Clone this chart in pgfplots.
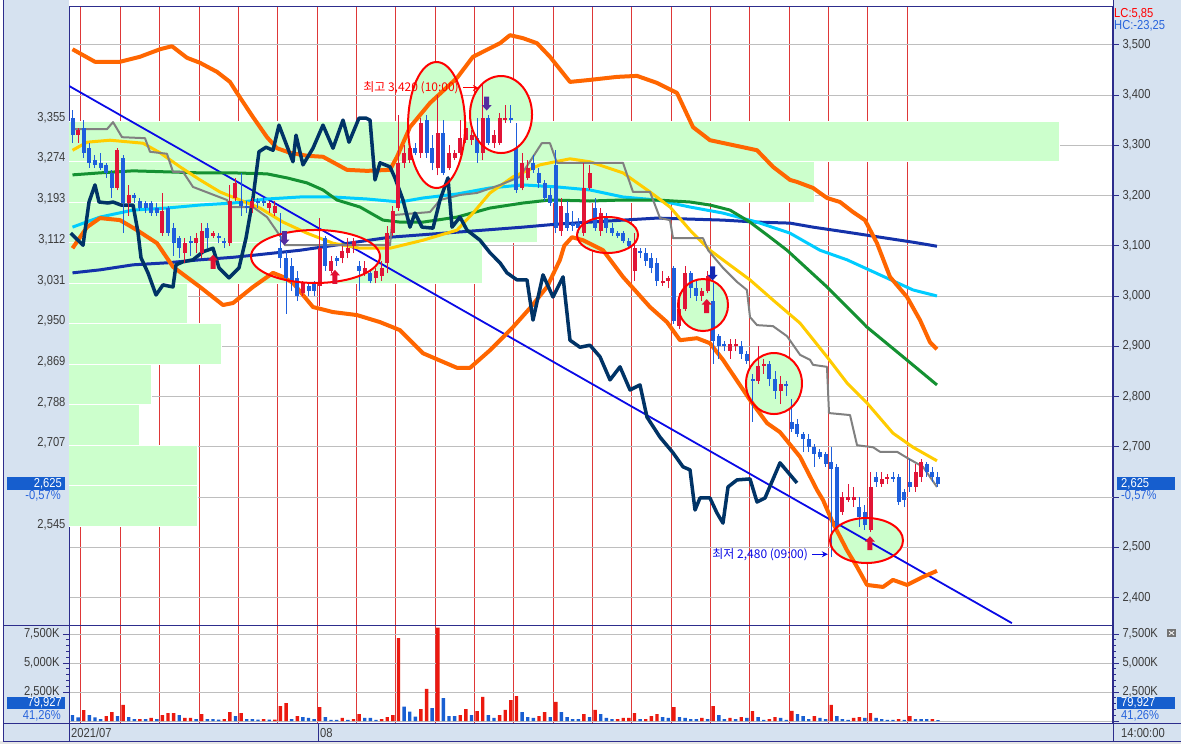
\documentclass[border=0pt]{standalone}
\usepackage{fontspec}
\setmainfont{Liberation Sans}[FakeStretch=0.86]
\newfontfamily\krfont{Noto Sans CJK KR}
\usepackage{pgfplots}
\usepackage{pgfplotstable}
\pgfplotsset{compat=1.18}
\usetikzlibrary{arrows.meta}

\definecolor{panel}{RGB}{214,226,240}
\definecolor{navy}{RGB}{45,45,140}
\definecolor{pgreen}{RGB}{204,255,204}
\definecolor{redgrid}{RGB}{222,55,55}
\definecolor{gridgray}{RGB}{190,190,190}
\definecolor{bborange}{RGB}{255,102,0}
\definecolor{mgray}{RGB}{128,128,128}
\definecolor{myellow}{RGB}{255,204,0}
\definecolor{mgreen}{RGB}{20,145,50}
\definecolor{mcyan}{RGB}{0,204,255}
\definecolor{mdblue}{RGB}{20,50,170}
\definecolor{osc}{RGB}{0,51,102}
\definecolor{tline}{RGB}{10,10,230}
\definecolor{cred}{RGB}{225,20,55}
\definecolor{cblue}{RGB}{30,95,220}
\definecolor{vred}{RGB}{235,25,15}
\definecolor{vblue}{RGB}{25,95,210}
\definecolor{lblbox}{RGB}{22,94,206}
\definecolor{lbltext}{RGB}{40,100,220}
\definecolor{tickgray}{RGB}{60,60,60}
\definecolor{purp}{RGB}{85,45,160}
\definecolor{sigred}{RGB}{225,15,50}
\definecolor{sigblue}{RGB}{20,40,180}

\newcommand\tks{\fontsize{13}{15}\selectfont}

\pgfdeclareplotmark{uparr}{%
 \pgfpathmoveto{\pgfqpoint{0pt}{7pt}}%
 \pgfpathlineto{\pgfqpoint{5pt}{1.5pt}}%
 \pgfpathlineto{\pgfqpoint{2.5pt}{1.5pt}}%
 \pgfpathlineto{\pgfqpoint{2.5pt}{-7pt}}%
 \pgfpathlineto{\pgfqpoint{-2.5pt}{-7pt}}%
 \pgfpathlineto{\pgfqpoint{-2.5pt}{1.5pt}}%
 \pgfpathlineto{\pgfqpoint{-5pt}{1.5pt}}%
 \pgfpathclose\pgfusepathqfill}
\pgfdeclareplotmark{dnarr}{%
 \pgfpathmoveto{\pgfqpoint{0pt}{-7pt}}%
 \pgfpathlineto{\pgfqpoint{5pt}{-1.5pt}}%
 \pgfpathlineto{\pgfqpoint{2.5pt}{-1.5pt}}%
 \pgfpathlineto{\pgfqpoint{2.5pt}{7pt}}%
 \pgfpathlineto{\pgfqpoint{-2.5pt}{7pt}}%
 \pgfpathlineto{\pgfqpoint{-2.5pt}{-1.5pt}}%
 \pgfpathlineto{\pgfqpoint{-5pt}{-1.5pt}}%
 \pgfpathclose\pgfusepathqfill}

\pgfplotstableread{
x o h l c
0 3355 3370 3305 3320
1 3320 3335 3305 3330
2 3335 3350 3275 3285
3 3295 3305 3255 3265
4 3270 3280 3255 3260
5 3265 3285 3250 3255
6 3260 3265 3235 3245
7 3245 3250 3195 3215
8 3215 3295 3210 3290
9 3275 3280 3125 3185
10 3185 3220 3160 3200
11 3200 3205 3185 3195
12 3190 3195 3170 3175
13 3185 3190 3165 3175
14 3185 3190 3160 3165
15 3175 3185 3160 3165
16 3125 3205 3120 3170
17 3175 3180 3120 3125
18 3135 3145 3080 3105
19 3115 3120 3075 3095
20 3085 3115 3065 3105
21 3110 3120 3080 3105
22 3105 3125 3085 3115
23 3085 3145 3075 3130
24 3135 3145 3095 3115
25 3120 3130 3115 3125
26 3120 3125 3105 3115
27 3110 3115 3095 3105
28 3105 3220 3100 3190
29 3195 3235 3190 3225
30 3190 3245 3160 3180
31 3180 3190 3165 3175
32 3175 3195 3165 3190
33 3190 3195 3175 3185
34 3190 3195 3180 3185
35 3175 3190 3165 3185
36 3165 3190 3160 3180
37 3095 3165 3055 3075
38 3075 3090 2965 3035
39 3060 3075 3010 3030
40 3035 3050 2990 3000
41 3005 3030 3000 3025
42 3020 3025 3000 3010
43 3025 3030 3000 3010
44 3020 3155 2980 3095
45 3115 3120 3050 3060
46 3050 3080 3045 3070
47 3075 3080 3060 3070
48 3075 3100 3065 3090
49 3085 3115 3075 3095
50 3100 3115 3085 3110
51 3060 3070 3010 3050
52 3045 3070 3040 3055
53 3045 3050 3025 3030
54 3035 3055 3025 3050
55 3040 3070 3030 3055
56 3065 3140 3045 3125
57 3125 3180 3120 3170
58 3175 3360 3170 3265
59 3265 3300 3255 3285
60 3270 3310 3265 3295
61 3295 3305 3280 3285
62 3285 3355 3275 3345
63 3350 3360 3275 3285
64 3295 3320 3250 3265
65 3255 3400 3240 3325
66 3325 3350 3240 3245
67 3255 3300 3250 3285
68 3275 3290 3270 3285
69 3285 3350 3280 3315
70 3310 3360 3305 3335
71 3310 3330 3300 3320
72 3315 3355 3265 3285
73 3285 3420 3270 3355
74 3355 3360 3300 3305
75 3305 3330 3295 3320
76 3305 3365 3300 3355
77 3350 3380 3345 3355
78 3355 3380 3345 3350
79 3295 3345 3205 3210
80 3215 3285 3210 3265
81 3235 3270 3230 3255
82 3265 3280 3245 3250
83 3245 3255 3215 3225
84 3225 3230 3190 3195
85 3200 3215 3180 3185
86 3260 3290 3125 3135
87 3130 3195 3120 3180
88 3165 3190 3130 3135
89 3145 3170 3130 3140
90 3145 3155 3125 3135
91 3125 3265 3120 3215
92 3215 3260 3210 3245
93 3175 3195 3130 3135
94 3130 3175 3120 3165
95 3155 3165 3125 3135
96 3135 3145 3120 3125
97 3125 3130 3115 3120
98 3125 3130 3105 3110
99 3110 3115 3095 3100
100 3050 3125 3030 3095
101 3090 3095 3075 3085
102 3085 3095 3060 3070
103 3075 3085 3045 3055
104 3065 3075 3020 3030
105 3025 3050 3020 3030
106 3030 3040 3015 3035
107 3055 3060 2945 2950
108 2940 3005 2935 2975
109 2975 3060 2970 3045
110 3045 3050 2995 3015
111 3015 3030 2990 3000
112 3000 3015 2990 3010
113 3010 3050 3005 3040
114 2990 3025 2865 2910
115 2920 2925 2875 2900
116 2905 2910 2890 2900
117 2890 2915 2875 2905
118 2900 2915 2890 2905
119 2900 2910 2875 2885
120 2885 2890 2865 2870
121 2835 2845 2750 2830
122 2830 2900 2825 2860
123 2860 2875 2845 2865
124 2865 2870 2820 2835
125 2835 2850 2795 2810
126 2810 2840 2785 2825
127 2825 2830 2800 2820
128 2750 2795 2730 2735
129 2745 2755 2720 2725
130 2725 2730 2690 2715
131 2715 2725 2690 2700
132 2700 2705 2660 2685
133 2690 2695 2675 2680
134 2685 2690 2660 2665
135 2670 2700 2480 2655
136 2660 2665 2535 2540
137 2570 2610 2565 2600
138 2595 2625 2590 2600
139 2595 2620 2580 2600
140 2580 2600 2540 2560
141 2570 2585 2535 2545
142 2535 2650 2530 2620
143 2640 2650 2620 2630
144 2625 2650 2620 2635
145 2635 2645 2625 2640
146 2640 2650 2630 2635
147 2640 2645 2585 2590
148 2610 2615 2580 2595
149 2630 2675 2610 2620
150 2620 2665 2610 2650
151 2640 2675 2630 2670
152 2665 2670 2640 2650
153 2650 2660 2630 2640
154 2640 2650 2620 2625
}\candles

\pgfplotstableread{
x v u
0 517 0
1 320 0
2 948 1
3 517 0
4 320 0
5 170 0
6 430 1
7 776 1
8 430 0
9 1380 1
10 345 0
11 170 0
12 170 1
13 170 0
14 260 1
15 170 0
16 517 1
17 690 1
18 690 1
19 517 0
20 260 1
21 260 1
22 170 0
23 600 1
24 170 0
25 170 0
26 110 0
27 170 1
28 776 1
29 430 0
30 690 1
31 170 0
32 170 0
33 110 0
34 170 1
35 110 0
36 110 1
37 1290 1
38 1550 1
39 170 0
40 430 1
41 345 0
42 260 0
43 170 0
44 1200 1
45 345 0
46 90 0
47 90 0
48 260 1
49 90 0
50 170 1
51 600 1
52 260 0
53 260 0
54 90 0
55 170 1
56 345 1
57 517 1
58 7150 1
59 1230 0
60 800 0
61 370 0
62 1030 1
63 2760 1
64 1120 0
65 8040 1
66 1980 0
67 430 0
68 430 0
69 517 1
70 1030 1
71 517 0
72 860 1
73 2070 1
74 517 0
75 260 0
76 517 1
77 950 1
78 1810 1
79 2150 1
80 776 0
81 345 0
82 260 0
83 430 1
84 776 1
85 345 0
86 1640 1
87 776 0
88 345 0
89 170 0
90 170 0
91 600 1
92 345 0
93 950 1
94 600 0
95 260 0
96 170 0
97 170 1
98 260 1
99 260 1
100 690 1
101 170 0
102 170 1
103 430 1
104 600 1
105 345 0
106 260 0
107 1200 1
108 345 0
109 260 0
110 170 0
111 170 0
112 260 1
113 170 0
114 1290 1
115 517 0
116 170 0
117 260 1
118 170 0
119 345 1
120 260 0
121 860 1
122 345 0
123 90 0
124 170 1
125 345 1
126 260 0
127 90 0
128 870 1
129 600 0
130 430 0
131 170 0
132 430 1
133 260 0
134 170 0
135 1380 1
136 430 0
137 170 0
138 90 0
139 260 1
140 345 1
141 260 0
142 690 1
143 260 0
144 170 0
145 90 0
146 90 0
147 170 1
148 90 0
149 430 1
150 170 0
151 170 0
152 170 0
153 170 1
154 80 0
}\volumes

\pgfplotsset{
 chartbase/.style={
   scale only axis, width=1044pt,
   xmin=-0.623, xmax=185.14,
   xtick={1.5,8.5,...,148.5}, xticklabels={},
   x tick label style={text opacity=0, opacity=0},
   xmajorgrids, major x grid style={redgrid, line width=0.9pt},
   x tick style={draw=none},
   axis line style={navy, line width=1pt},
   tick align=outside, major tick length=6pt, minor tick length=3pt,
   y tick style={navy, line width=0.8pt},
   ymajorgrids, major y grid style={gridgray, line width=0.9pt},
   scaled y ticks=false,
   y tick label style={font=\tks, text=tickgray},
   /pgf/number format/assume math mode=true,
   /pgf/number format/1000 sep={,},
 },
 overlay/.style={
   scale only axis, width=1044pt,
   xmin=0, xmax=1, hide x axis,
   axis line style={draw=none},
   scaled y ticks=false,
   y tick label style={font=\tks, text=tickgray},
   /pgf/number format/assume math mode=true,
   /pgf/number format/1000 sep={,},
 },
 upc/.style={x filter/.expression={\thisrow{c}>=\thisrow{o} ? x : nan}},
 dnc/.style={x filter/.expression={\thisrow{c}<\thisrow{o} ? x : nan}},
}

\begin{document}
\begin{tikzpicture}
\useasboundingbox (0pt,0pt) rectangle (1181pt,-744pt);
\fill[white] (0pt,0pt) rectangle (1181pt,-744pt);
\fill[panel] (3pt,0pt) rectangle (69pt,-741pt);
\fill[panel] (1113pt,0pt) rectangle (1181pt,-741pt);
\fill[panel] (69pt,-723pt) rectangle (1113pt,-741pt);
\fill[black!10] (0pt,-741pt) rectangle (1181pt,-744pt);

% ---------------- main price panel ----------------
\begin{axis}[chartbase, at={(69pt,-6pt)}, anchor=north west, height=619pt,
  ymin=2345.25, ymax=3577.06,
  ytick={2400,2500,2700,2800,2900,3000,3100,3200,3300,3400,3500},
  extra y ticks={2600}, extra y tick labels={},
  ytick pos=right, yticklabel pos=right, minor y tick num=4]

% volume-by-price profile
\addplot[fill=pgreen, draw=white, line width=1pt] coordinates {(-1,3348) (175.7,3348) (175.7,3267.4) (-1,3267.4) (-1,3348)};
\addplot[fill=pgreen, draw=white, line width=1pt] coordinates {(-1,3267.4) (132.1,3267.4) (132.1,3186.8) (-1,3186.8) (-1,3267.4)};
\addplot[fill=pgreen, draw=white, line width=1pt] coordinates {(-1,3186.8) (82.7,3186.8) (82.7,3106.2) (-1,3106.2) (-1,3186.8)};
\addplot[fill=pgreen, draw=white, line width=1pt] coordinates {(-1,3106.2) (72.9,3106.2) (72.9,3025.6) (-1,3025.6) (-1,3106.2)};
\addplot[fill=pgreen, draw=white, line width=1pt] coordinates {(-1,3025.6) (20.5,3025.6) (20.5,2945.0) (-1,2945.0) (-1,3025.6)};
\addplot[fill=pgreen, draw=white, line width=1pt] coordinates {(-1,2945.0) (26.6,2945.0) (26.6,2864.4) (-1,2864.4) (-1,2945.0)};
\addplot[fill=pgreen, draw=white, line width=1pt] coordinates {(-1,2864.4) (14.0,2864.4) (14.0,2783.8) (-1,2783.8) (-1,2864.4)};
\addplot[fill=pgreen, draw=white, line width=1pt] coordinates {(-1,2783.8) (12.0,2783.8) (12.0,2703.2) (-1,2703.2) (-1,2783.8)};
\addplot[fill=pgreen, draw=white, line width=1pt] coordinates {(-1,2703.2) (22.2,2703.2) (22.2,2622.6) (-1,2622.6) (-1,2703.2)};
\addplot[fill=pgreen, draw=white, line width=1pt] coordinates {(-1,2622.6) (22.3,2622.6) (22.3,2542.0) (-1,2542.0) (-1,2622.6)};

% ellipse fills (XOR-like against the profile)
\fill[pgreen] (axis cs:64.78,3340.25) ellipse [x radius=28.5pt, y radius=63pt];
\begin{scope}
 \clip (axis cs:64.78,3340.25) ellipse [x radius=28.5pt, y radius=63pt];
 \fill[white] (axis cs:55,3186.8) rectangle (axis cs:75,3348);
\end{scope}
\fill[pgreen] (axis cs:76.25,3361.1) ellipse [x radius=31pt, y radius=38.5pt];
\begin{scope}
 \clip (axis cs:76.25,3361.1) ellipse [x radius=31pt, y radius=38.5pt];
 \fill[white] (axis cs:65,3267.4) rectangle (axis cs:88,3348);
\end{scope}
\fill[white] (axis cs:43.24,3078.6) ellipse [x radius=64.5pt, y radius=26.5pt];
\fill[pgreen] (axis cs:95.2,3121.35) ellipse [x radius=30.5pt, y radius=18pt];
\fill[pgreen] (axis cs:112.19,2982) ellipse [x radius=25pt, y radius=26pt];
\fill[pgreen] (axis cs:124.82,2825.8) ellipse [x radius=28pt, y radius=30.5pt];
\fill[pgreen] (axis cs:141.28,2513.4) ellipse [x radius=36.5pt, y radius=22.5pt];

% trend line
\addplot[tline, line width=1.8pt] coordinates {(-0.62,3418) (167.15,2349)};

% moving averages
\addplot[mdblue, line width=3pt, line join=round] coordinates {(0,3046) (4.89,3052) (10.77,3062) (16.81,3066) (22.69,3072) (28.56,3077) (32.12,3081) (40.48,3091) (56.49,3117) (68.42,3127) (80.16,3137) (86.21,3143) (92.08,3147) (97.95,3151) (104,3155) (109.88,3153) (115.74,3151) (121.8,3147) (127.67,3145) (131.76,3137) (137.81,3127) (143.68,3117) (149.56,3107) (153.82,3099)};
\addplot[mcyan, line width=3pt, line join=round] coordinates {(0,3137) (4.89,3157) (10.77,3171) (16.81,3175) (22.69,3181) (28.56,3185) (34.61,3193) (40.48,3197) (46.35,3197) (52.4,3193) (58.27,3187) (62.37,3195) (68.42,3203) (74.29,3215) (80.16,3221) (86.21,3217) (92.08,3211) (97.95,3197) (104,3191) (109.88,3177) (115.74,3165) (121.8,3147) (127.67,3125) (133.01,3091) (137.81,3072) (143.68,3042) (149.56,3012) (153.82,3000)};
\addplot[mgreen, line width=3pt, line join=round] coordinates {(0,3241) (4.89,3245) (10.77,3249) (16.81,3247) (22.69,3245) (28.56,3245) (34.61,3243) (38.17,3235) (41.73,3225) (44.57,3211) (47.06,3191) (51.16,3177) (55.25,3151) (58.27,3147) (62.37,3147) (68.42,3157) (74.29,3175) (80.16,3185) (84.96,3191) (92.08,3189) (97.95,3191) (104,3191) (109.88,3187) (113.43,3181) (116.99,3171) (120.55,3147) (124.11,3117) (127.14,3091) (134.25,3018) (141.37,2938) (147.78,2879) (153.82,2823)};
\addplot[myellow, line width=3pt, line join=round] coordinates {(0,3290) (2.58,3306) (6.67,3310) (12.54,3304) (15.57,3285) (19.13,3257) (22.69,3231) (26.25,3207) (29.8,3191) (33.36,3175) (37.46,3147) (41.73,3125) (46.35,3105) (51.16,3095) (56.49,3095) (62.37,3111) (68.42,3131) (71.26,3165) (74.29,3205) (78.38,3237) (83.19,3261) (88.52,3273) (92.08,3267) (97.95,3245) (102.76,3207) (106.32,3177) (109.88,3131) (113.43,3091) (120.55,3032) (124.64,2992) (129.45,2946) (134.25,2879) (137.81,2827) (141.37,2787) (145.99,2727) (149.56,2699) (153.82,2672)};
\addplot[mgray, line width=2pt, line join=round] coordinates {(0,3332) (6.14,3332) (7.21,3346) (8.81,3316) (12.9,3314) (13.79,3287) (16.81,3283) (17.88,3247) (19.66,3247) (21.44,3217) (27.49,3191) (28.02,3177) (32.12,3177) (34.61,3157) (37.46,3111) (37.81,3101) (56.49,3101) (57.0,3161) (63.61,3167) (65.39,3191) (68.95,3201) (71.97,3205) (76.07,3221) (79.6,3237) (81.94,3277) (83.5,3304) (84.96,3304) (86.2,3265) (97.95,3265) (99.73,3207) (102.76,3207) (104.54,3155) (106.32,3151) (106.85,3115) (112.19,3115) (113.1,3091) (115.74,3056) (118.24,3028) (120,3012) (120.55,2958) (121.8,2942) (124.64,2940) (127.14,2920) (129.45,2883) (131.23,2873) (131.76,2863) (134.25,2859) (134.61,2767) (138.35,2763) (139.6,2703) (142.44,2699) (143.68,2690) (146.71,2690) (148.49,2678) (151.33,2660) (153.82,2620)};

% Bollinger bands
\addplot[bborange, line width=4pt, line join=round] coordinates {(0,3491) (4,3466) (8.45,3466) (12,3476) (15.57,3491) (17.7,3497) (20.37,3474) (22.69,3464) (25.71,3446) (28.02,3426) (29.27,3404) (32.12,3356) (34.61,3316) (36.39,3294) (38.7,3285) (41.73,3279) (44.57,3277) (48.84,3251) (52.4,3249) (56.49,3251) (57.74,3277) (60.05,3336) (63.61,3384) (68.42,3434) (71.26,3476) (74.29,3493) (76.07,3503) (77.85,3519) (80.16,3513) (82.65,3503) (84.96,3476) (88.52,3426) (92.08,3430) (96.89,3436) (100.44,3438) (104,3424) (107.56,3404) (110.41,3336) (113.43,3310) (119.31,3296) (121.8,3290) (124.64,3257) (127.67,3231) (128.91,3227) (131.76,3215) (134.25,3195) (136.57,3187) (138.88,3167) (141.01,3151) (143.15,3105) (145.46,3038) (148.49,2998) (150.8,2952) (152.58,2908) (153.82,2894)};
\addplot[bborange, line width=4pt, line join=round] coordinates {(0,3095) (2.58,3137) (4.89,3155) (8.45,3151) (11.48,3131) (15.04,3105) (17.88,3058) (22.69,3018) (26.78,2982) (28.56,2986) (32.12,3018) (35.68,3046) (37.46,3038) (39.23,3026) (42.79,2978) (46.35,2968) (50.62,2962) (54.72,2948) (58.27,2932) (62.37,2886) (68.42,2857) (70.73,2857) (74.29,2892) (78.38,2938) (81.41,2976) (84.43,3018) (86.74,3072) (87.5,3100) (88.88,3117) (90.84,3111) (94.4,3091) (97.95,3038) (102.76,2978) (105.78,2948) (108.1,2912) (111.12,2916) (113.43,2906) (115.74,2873) (120.55,2793) (123.58,2747) (125.89,2729) (129.45,2680) (132.47,2614) (133.54,2594) (135.32,2548) (137.81,2494) (139.59,2461) (141.37,2425) (144.22,2421) (145.99,2435) (148.49,2425) (151.33,2441) (153.82,2453)};

% oscillator overlay
\addplot[osc, line width=3.5pt, line join=round] coordinates {(-0.3,3125) (1.87,3101) (2.94,3187) (4.0,3221) (4.72,3187) (6.32,3185) (7.21,3187) (8.63,3181) (10.77,3181) (11.65,3127) (12.19,3076) (13.43,3046) (14.86,3002) (16.1,3022) (17.88,3018) (18.42,3062) (19.66,3068) (21.44,3072) (23.22,3088) (25.0,3095) (26.07,3056) (27.85,3036) (29.63,3056) (30.87,3115) (32.12,3195) (33.18,3287) (34.43,3296) (35.68,3290) (36.74,3340) (39.23,3267) (39.77,3320) (41.01,3261) (42.79,3294) (44.57,3340) (46.35,3294) (48.13,3350) (49.2,3306) (50.98,3354) (52.22,3354) (52.94,3350) (53.83,3231) (54.72,3265) (56.49,3257) (57.38,3235) (58.81,3191) (60.05,3137) (60.94,3165) (62.19,3137) (64.15,3135) (65.39,3191) (66.81,3235) (67.53,3137) (68.95,3157) (70.2,3131) (72.51,3111) (74.29,3086) (76.07,3066) (77.31,3046) (79.09,3032) (80.87,3032) (81.94,2952) (83.72,3042) (85.5,2998) (87.28,3038) (88.52,2912) (90.3,2898) (92.08,2902) (93.86,2879) (95.64,2833) (97.42,2859) (99.2,2813) (100.98,2823) (102.22,2759) (104.54,2719) (106.85,2688) (108.63,2660) (109.88,2654) (110.77,2574) (111.65,2598) (113.43,2598) (114.68,2568) (115.74,2548) (116.64,2620) (118.24,2634) (120.55,2636) (121.8,2590) (123.22,2598) (125.89,2668) (128.91,2628)};

% candles: wicks
\addplot[upc, draw=none, mark=none, error bars/.cd, y dir=plus, y explicit, error mark=none,
  error bar style={draw=cred, line width=1pt}]
  table[x=x, y=l, y error plus expr={\thisrow{h}-\thisrow{l}}] {\candles};
\addplot[dnc, draw=none, mark=none, error bars/.cd, y dir=plus, y explicit, error mark=none,
  error bar style={draw=cblue, line width=1pt}]
  table[x=x, y=l, y error plus expr={\thisrow{h}-\thisrow{l}}] {\candles};
% candles: bodies
\addplot[upc, draw=none, mark=none, error bars/.cd, y dir=both, y explicit, error mark=none,
  error bar style={draw=cred, line width=4pt}]
  table[x=x, y expr={(\thisrow{o}+\thisrow{c})/2}, y error expr={abs(\thisrow{c}-\thisrow{o})/2}] {\candles};
\addplot[dnc, draw=none, mark=none, error bars/.cd, y dir=both, y explicit, error mark=none,
  error bar style={draw=cblue, line width=4pt}]
  table[x=x, y expr={(\thisrow{o}+\thisrow{c})/2}, y error expr={abs(\thisrow{c}-\thisrow{o})/2}] {\candles};

% signal markers
\addplot[only marks, mark=dnarr, purp] coordinates {(37.7,3115) (73.7,3383)};
\addplot[only marks, mark=uparr, sigred] coordinates {(25,3068) (46.7,3038) (112.85,2980) (141.9,2508)};
\addplot[only marks, mark=dnarr, sigblue] coordinates {(113.9,3045)};

% ellipse outlines
\draw[red, line width=2pt] (axis cs:64.78,3340.25) ellipse [x radius=28.5pt, y radius=63pt];
\draw[red, line width=2pt] (axis cs:76.25,3361.1) ellipse [x radius=31pt, y radius=38.5pt];
\draw[red, line width=2pt] (axis cs:43.24,3078.6) ellipse [x radius=64.5pt, y radius=26.5pt];
\draw[red, line width=2pt] (axis cs:95.2,3121.35) ellipse [x radius=30.5pt, y radius=18pt];
\draw[red, line width=2pt] (axis cs:112.19,2982) ellipse [x radius=25pt, y radius=26pt];
\draw[red, line width=2pt] (axis cs:124.82,2825.8) ellipse [x radius=28pt, y radius=30.5pt];
\draw[red, line width=2pt] (axis cs:141.28,2513.4) ellipse [x radius=36.5pt, y radius=22.5pt];

% high / low annotations
\node[anchor=east, text=red, font=\krfont\fontsize{12}{14}\selectfont, inner sep=0pt] at (axis cs:68.77,3414) {최고 3,420 (10:00)};
\draw[red, line width=1pt, -{Stealth[length=6pt,width=6pt]}] (axis cs:69.5,3414) -- (axis cs:72.3,3414);
\node[anchor=east, text=tline, font=\krfont\fontsize{12}{14}\selectfont, inner sep=0pt] at (axis cs:130.9,2486) {최저 2,480 (09:00)};
\draw[tline, line width=1pt, -{Stealth[length=6pt,width=6pt]}] (axis cs:131.6,2486) -- (axis cs:134.4,2486);
\end{axis}

% left price labels
\begin{axis}[overlay, at={(69pt,-6pt)}, anchor=north west, height=619pt,
  ymin=2345.25, ymax=3577.06,
  ytick={2545,2707,2788,2869,2950,3031,3112,3193,3274,3355},
  ytick pos=left, yticklabel pos=left, y tick style={draw=none}, major tick length=0pt]
\addplot[draw=none] coordinates {(0.5,3000)};
\end{axis}

% ---------------- volume panel ----------------
\begin{axis}[chartbase, at={(69pt,-625pt)}, anchor=north west, height=98pt,
  ymin=-172, ymax=8276,
  ytick={0,2500,5000,7500}, yticklabels={{},{2,500K},{5,000K},{7,500K}},
  ytick pos=right, yticklabel pos=right, minor y tick num=4]
\addplot[ybar, bar width=3.4pt, bar shift=0pt, fill=vred, draw=none,
  x filter/.expression={\thisrow{u}>0 ? x : nan}]
  table[x=x, y=v] {\volumes};
\addplot[ybar, bar width=3.4pt, bar shift=0pt, fill=vblue, draw=none,
  x filter/.expression={\thisrow{u}>0 ? nan : x}]
  table[x=x, y=v] {\volumes};
\end{axis}

\begin{axis}[overlay, at={(69pt,-625pt)}, anchor=north west, height=98pt,
  ymin=-172, ymax=8276,
  ytick={2500,5000,7500}, yticklabels={{2,500K},{5,000K},{7,500K}},
  ytick pos=left, yticklabel pos=left, tick align=outside, major tick length=6pt, minor tick length=3pt,
  minor y tick num=4, y tick style={navy, line width=0.8pt}]
\addplot[draw=none] coordinates {(0.5,1000)};
\end{axis}

% ---------------- frame lines and side labels ----------------
\draw[navy, line width=1pt] (3pt,0pt) -- (3pt,-741pt);
\draw[navy, line width=1pt] (3pt,-741pt) -- (1181pt,-741pt);
\draw[navy, line width=1pt] (3pt,-625pt) -- (69pt,-625pt);
\draw[navy, line width=1pt] (3pt,-723pt) -- (1181pt,-723pt);
\draw[navy, line width=1pt] (1113pt,0pt) -- (1113pt,-741pt);
\draw[navy, line width=1pt] (69pt,-723pt) -- (69pt,-741pt);
\draw[navy, line width=1pt] (318pt,-723pt) -- (318pt,-741pt);

\node[anchor=west, text=red, font=\tks, inner sep=0pt] at (1114pt,-14pt) {LC:5,85};
\node[anchor=west, text=lbltext, font=\tks, inner sep=0pt] at (1114pt,-26pt) {HC:-23,25};

\fill[lblbox] (1117pt,-477pt) rectangle (1175pt,-490pt);
\node[anchor=west, text=white, font=\tks, inner sep=0pt] at (1121pt,-483.5pt) {2,625};
\node[anchor=west, text=lbltext, font=\tks, inner sep=0pt] at (1121pt,-496pt) {-0,57\%};
\fill[lblbox] (7pt,-477pt) rectangle (65pt,-490pt);
\node[anchor=east, text=white, font=\tks, inner sep=0pt] at (62pt,-483.5pt) {2,625};
\node[anchor=east, text=lbltext, font=\tks, inner sep=0pt] at (61pt,-496pt) {-0,57\%};

\fill[lblbox] (1117pt,-697pt) rectangle (1175pt,-709pt);
\node[anchor=west, text=white, font=\tks, inner sep=0pt] at (1121pt,-703pt) {79,927};
\node[anchor=west, text=lbltext, font=\tks, inner sep=0pt] at (1121pt,-715.5pt) {41,26\%};
\fill[lblbox] (7pt,-697pt) rectangle (65pt,-709pt);
\node[anchor=east, text=white, font=\tks, inner sep=0pt] at (62pt,-703pt) {79,927};
\node[anchor=east, text=lbltext, font=\tks, inner sep=0pt] at (61pt,-715.5pt) {41,26\%};

\fill[black!55] (1167pt,-629pt) rectangle (1176pt,-637pt);
\draw[white, line width=0.8pt] (1169pt,-631pt) -- (1174pt,-635pt) (1169pt,-635pt) -- (1174pt,-631pt);

\node[anchor=west, text=tickgray, font=\tks, inner sep=0pt] at (71pt,-733pt) {2021/07};
\node[anchor=west, text=tickgray, font=\tks, inner sep=0pt] at (320pt,-733pt) {08};
\node[anchor=west, text=tickgray, font=\tks, inner sep=0pt] at (1121pt,-733pt) {14:00:00};
\end{tikzpicture}
\end{document}
